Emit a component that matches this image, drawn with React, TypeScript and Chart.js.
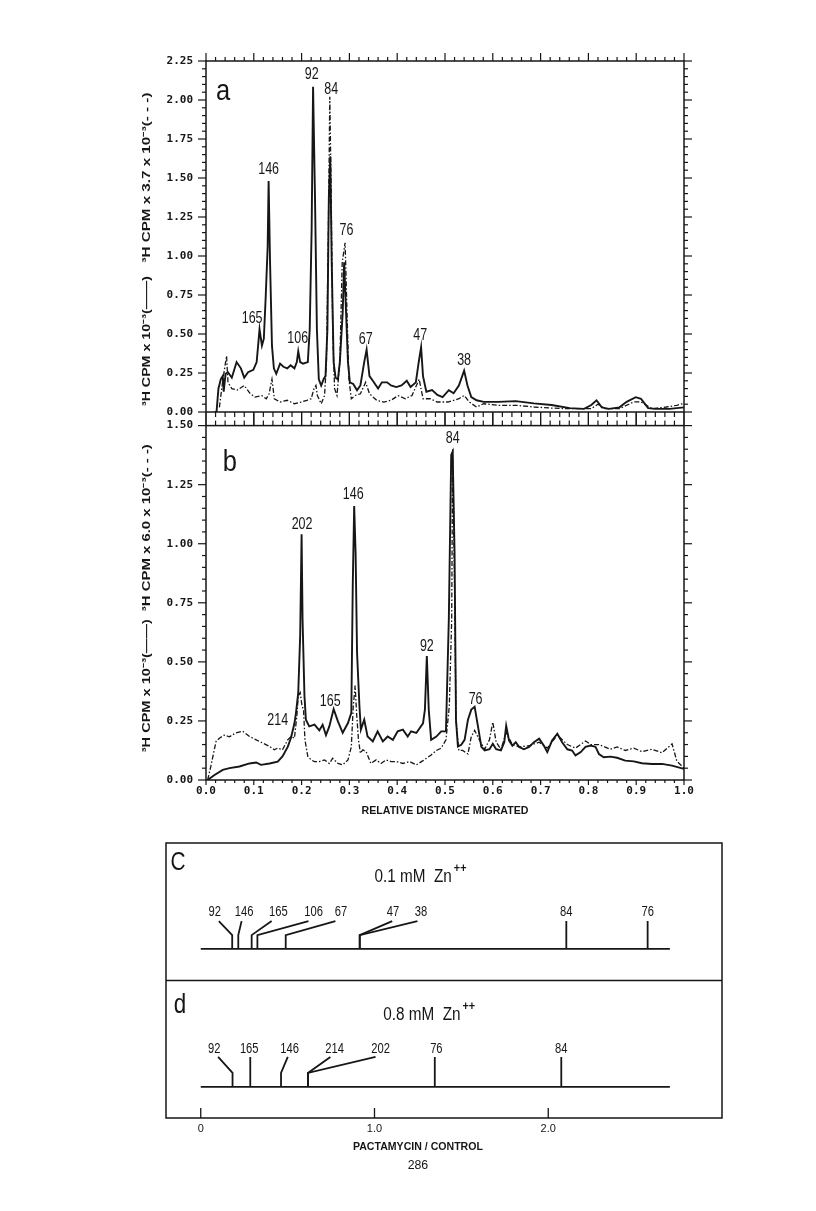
import React, { useEffect, useRef } from 'react';
import { Chart, registerables } from 'chart.js';
Chart.register(...registerables);

// ---------- Panel a (0.1 mM Zn++) ----------
const aSolidX = [0.018,0.022,0.026,0.031,0.035,0.037,0.041,0.046,0.054,0.064,0.073,0.080,0.088,0.099,0.106,0.112,0.117,0.121,0.125,0.129,0.131,0.134,0.138,0.142,0.147,0.155,0.162,0.170,0.177,0.185,0.190,0.193,0.197,0.203,0.213,0.217,0.221,0.224,0.228,0.232,0.236,0.241,0.246,0.250,0.254,0.257,0.260,0.263,0.267,0.271,0.276,0.280,0.286,0.289,0.293,0.297,0.301,0.308,0.316,0.323,0.331,0.336,0.342,0.349,0.360,0.368,0.379,0.387,0.398,0.409,0.420,0.428,0.439,0.445,0.450,0.454,0.461,0.473,0.484,0.495,0.508,0.518,0.529,0.540,0.547,0.555,0.566,0.581,0.611,0.648,0.686,0.723,0.761,0.791,0.806,0.817,0.828,0.843,0.865,0.880,0.899,0.910,0.925,0.940,0.970,1.0];
const aSolidY = [0,0,0.15,0.21,0.23,0.13,0.245,0.255,0.22,0.32,0.28,0.22,0.255,0.27,0.32,0.53,0.425,0.47,0.745,1.06,1.48,0.96,0.425,0.28,0.245,0.31,0.29,0.28,0.30,0.28,0.32,0.39,0.32,0.31,0.32,0.53,1.17,2.085,1.38,0.53,0.21,0.17,0.21,0.23,0.53,1.38,1.64,0.96,0.32,0.22,0.21,0.32,0.64,0.96,0.64,0.32,0.19,0.18,0.14,0.17,0.32,0.40,0.23,0.20,0.15,0.19,0.19,0.17,0.16,0.17,0.20,0.16,0.19,0.32,0.415,0.23,0.13,0.14,0.11,0.096,0.14,0.12,0.17,0.265,0.17,0.096,0.075,0.065,0.065,0.07,0.055,0.045,0.025,0.02,0.045,0.075,0.03,0.02,0.03,0.065,0.095,0.085,0.025,0.02,0.02,0.03];
const aDashX = [0.028,0.035,0.043,0.046,0.054,0.065,0.080,0.092,0.102,0.117,0.126,0.132,0.138,0.143,0.155,0.170,0.185,0.200,0.211,0.220,0.226,0.230,0.233,0.241,0.248,0.252,0.256,0.259,0.262,0.265,0.269,0.274,0.280,0.285,0.291,0.295,0.299,0.304,0.312,0.323,0.334,0.342,0.357,0.372,0.387,0.402,0.417,0.431,0.446,0.454,0.469,0.484,0.506,0.529,0.540,0.551,0.566,0.581,0.611,0.648,0.686,0.723,0.761,0.806,0.820,0.835,0.865,0.895,0.910,0.933,0.963,0.985,1.0];
const aDashY = [0.03,0.2,0.36,0.19,0.15,0.14,0.17,0.12,0.096,0.105,0.085,0.117,0.21,0.085,0.064,0.075,0.053,0.064,0.075,0.085,0.15,0.17,0.106,0.053,0.106,0.32,1.17,2.02,1.38,0.53,0.15,0.106,0.32,0.96,1.085,0.64,0.21,0.085,0.106,0.117,0.19,0.117,0.075,0.064,0.075,0.105,0.085,0.106,0.21,0.085,0.085,0.064,0.064,0.085,0.106,0.064,0.032,0.053,0.043,0.043,0.032,0.025,0.021,0.021,0.05,0.021,0.021,0.065,0.065,0.021,0.032,0.043,0.055];
const aPeakLabels = ['165','146','106','92','84','76','67','47','38'];
const aPeakX = [0.0965,0.131,0.192,0.221,0.262,0.294,0.334,0.448,0.54];
const aPeakY = [0.596,1.553,0.468,2.16,2.068,1.16,0.464,0.489,0.33];

// ---------- Panel b (0.8 mM Zn++) ----------
const bSolidX = [0.0035,0.017,0.035,0.049,0.07,0.091,0.105,0.115,0.133,0.15,0.16,0.171,0.178,0.185,0.188,0.193,0.197,0.2,0.202,0.206,0.209,0.216,0.227,0.237,0.244,0.251,0.258,0.267,0.276,0.286,0.297,0.304,0.307,0.31,0.313,0.316,0.321,0.324,0.331,0.338,0.349,0.359,0.37,0.38,0.391,0.401,0.412,0.422,0.429,0.44,0.454,0.458,0.462,0.466,0.471,0.482,0.492,0.502,0.508,0.513,0.516,0.52,0.523,0.527,0.534,0.541,0.548,0.555,0.562,0.569,0.576,0.583,0.593,0.6,0.607,0.617,0.624,0.628,0.634,0.641,0.648,0.655,0.665,0.676,0.686,0.697,0.707,0.714,0.724,0.735,0.745,0.756,0.766,0.773,0.784,0.794,0.805,0.815,0.822,0.832,0.846,0.86,0.877,0.895,0.912,0.933,0.954,0.975,1.0];
const bSolidY = [0,0.02,0.043,0.05,0.057,0.07,0.074,0.064,0.07,0.078,0.1,0.14,0.18,0.24,0.28,0.37,0.61,1.04,0.68,0.355,0.255,0.227,0.234,0.21,0.234,0.19,0.227,0.30,0.248,0.2,0.241,0.284,0.82,1.16,0.96,0.539,0.312,0.213,0.255,0.184,0.163,0.206,0.163,0.184,0.17,0.206,0.213,0.184,0.206,0.199,0.24,0.298,0.525,0.298,0.17,0.184,0.206,0.206,0.68,1.376,1.39,0.965,0.255,0.142,0.149,0.17,0.255,0.298,0.31,0.227,0.14,0.125,0.13,0.153,0.13,0.125,0.16,0.23,0.167,0.145,0.16,0.14,0.13,0.14,0.16,0.175,0.145,0.118,0.167,0.196,0.16,0.13,0.125,0.104,0.118,0.14,0.146,0.14,0.11,0.096,0.099,0.094,0.082,0.079,0.071,0.068,0.068,0.061,0.047];
const bDashX = [0.0035,0.01,0.021,0.028,0.038,0.049,0.063,0.077,0.091,0.105,0.119,0.133,0.143,0.15,0.16,0.171,0.178,0.185,0.19,0.193,0.197,0.201,0.204,0.207,0.213,0.22,0.227,0.237,0.248,0.258,0.265,0.276,0.286,0.297,0.304,0.308,0.312,0.315,0.319,0.323,0.328,0.335,0.345,0.356,0.366,0.377,0.387,0.398,0.412,0.426,0.44,0.454,0.464,0.471,0.482,0.492,0.502,0.509,0.514,0.516,0.52,0.523,0.529,0.537,0.548,0.555,0.562,0.572,0.583,0.593,0.6,0.607,0.617,0.628,0.641,0.655,0.676,0.697,0.714,0.735,0.756,0.773,0.794,0.805,0.822,0.846,0.86,0.877,0.895,0.912,0.933,0.954,0.975,0.985,1.0];
const bDashY = [0,0.057,0.163,0.177,0.19,0.183,0.2,0.206,0.184,0.17,0.156,0.142,0.128,0.135,0.128,0.17,0.184,0.177,0.27,0.355,0.37,0.312,0.3,0.17,0.1,0.085,0.078,0.078,0.085,0.07,0.092,0.07,0.064,0.085,0.14,0.31,0.4,0.284,0.17,0.113,0.128,0.12,0.07,0.085,0.07,0.085,0.078,0.078,0.07,0.078,0.064,0.082,0.096,0.106,0.125,0.135,0.17,0.312,0.68,1.4,0.82,0.255,0.125,0.125,0.11,0.184,0.21,0.17,0.13,0.17,0.245,0.16,0.13,0.2,0.15,0.14,0.145,0.16,0.135,0.19,0.15,0.135,0.165,0.15,0.15,0.13,0.14,0.125,0.135,0.12,0.13,0.115,0.153,0.08,0.05];
const bPeakLabels = ['214','202','165','146','92','84','76'];
const bPeakX = [0.15,0.201,0.26,0.308,0.462,0.516,0.564];
const bPeakY = [0.251,1.08,0.333,1.209,0.563,1.444,0.34];

// ---------- Panels c, d (pactamycin / control) ----------
const cLabels = ['92','146','165','106','67','47','38','84','76'];
const cLabelX = [0.081,0.25,0.447,0.649,0.807,1.106,1.268,2.104,2.572];
const cLeadX = [0.104,0.235,0.408,0.62,0.775,1.102,1.247,2.104,2.572];
const cFootX = [0.181,0.216,0.293,0.326,0.489,0.915,0.915,2.104,2.572];
const dLabels = ['92','165','146','214','202','76','84'];
const dLabelX = [0.077,0.279,0.511,0.771,1.035,1.356,2.075];
const dLeadX = [0.1,0.285,0.501,0.746,1.006,1.347,2.075];
const dFootX = [0.183,0.285,0.462,0.617,0.617,1.347,2.075];
const cdTickValues = [0, 1, 2];
const cdAxisEnd = 2.7;

const INK = '#161616';

function line(ctx: CanvasRenderingContext2D, x1: number, y1: number, x2: number, y2: number) {
  ctx.beginPath(); ctx.moveTo(x1, y1); ctx.lineTo(x2, y2); ctx.stroke();
}
function text(ctx: CanvasRenderingContext2D, s: string, x: number, y: number, font: string, sx = 1, align: CanvasTextAlign = 'center', rot = 0) {
  ctx.save();
  ctx.translate(x, y);
  if (rot) ctx.rotate(rot);
  ctx.scale(sx, 1);
  ctx.font = font; ctx.textAlign = align; ctx.textBaseline = 'middle'; ctx.fillStyle = INK;
  ctx.fillText(s, 0, 0);
  ctx.restore();
}
function fitText(ctx: CanvasRenderingContext2D, s: string, x: number, y: number, font: string, w: number, rot = 0) {
  ctx.save(); ctx.font = font; const m = ctx.measureText(s).width; ctx.restore();
  text(ctx, s, x, y, font, w / m, 'center', rot);
}
const pts = (xs: number[], ys: number[]) => xs.map((x, i) => ({ x, y: ys[i] }));

type PanelCfg = {
  labels: string[]; lx: number[]; ly: number[];
  letter: string; letterX: number; letterY: number;
  t1: string; t2: string; t1f: number; t2f: number; t1w: number; t2w: number;
  topMaj: number; topMin: number; botMaj: number; botMin: number;
  xTitle?: string;
};

function panelPlugin(cfg: PanelCfg) {
  return {
    id: 'panelDecor',
    afterDraw(chart: any) {
      const ctx: CanvasRenderingContext2D = chart.ctx;
      const { left, right, top, bottom } = chart.chartArea;
      const x = chart.scales.x, y = chart.scales.y;
      ctx.save();
      ctx.strokeStyle = INK; ctx.lineWidth = 1.5;
      ctx.strokeRect(left, top, right - left, bottom - top);
      ctx.lineWidth = 1.2;
      const ny = Math.round(y.max / 0.05);
      for (let i = 0; i <= ny; i++) {
        const p = y.getPixelForValue(i * 0.05);
        const L = i % 5 === 0 ? 8 : 4;
        line(ctx, left - L, p, left, p);
        line(ctx, right, p, right + L, p);
      }
      for (let i = 0; i <= 50; i++) {
        const p = x.getPixelForValue(i * 0.02);
        const maj = i % 5 === 0;
        line(ctx, p, top, p, top - (maj ? cfg.topMaj : cfg.topMin));
        line(ctx, p, bottom, p, bottom + (maj ? cfg.botMaj : cfg.botMin));
      }
      cfg.labels.forEach((s, i) =>
        text(ctx, s, x.getPixelForValue(cfg.lx[i]), y.getPixelForValue(cfg.ly[i]), '16px "Liberation Sans"', 0.78));
      text(ctx, cfg.letter, x.getPixelForValue(cfg.letterX), y.getPixelForValue(cfg.letterY), '30px "Liberation Sans"', 0.85);
      const tx = left - 59;
      const h = bottom - top;
      fitText(ctx, cfg.t1, tx, top + h * cfg.t1f, 'bold 11px "Liberation Sans"', cfg.t1w, -Math.PI / 2);
      fitText(ctx, cfg.t2, tx, top + h * cfg.t2f, 'bold 11px "Liberation Sans"', cfg.t2w, -Math.PI / 2);
      if (cfg.xTitle) fitText(ctx, cfg.xTitle, (left + right) / 2, bottom + 31, 'bold 11px "Liberation Sans"', 167);
      ctx.restore();
    },
  };
}

const tickFont = { family: 'DejaVu Sans Mono', size: 11, weight: 'bold' as const };

function panelConfig(solid: any[], dash: any[], yMax: number, showX: boolean, pad: any, cfg: PanelCfg): any {
  return {
    type: 'line',
    data: {
      datasets: [
        { data: dash, borderColor: INK, borderWidth: 1.3, borderDash: [5, 2, 1.5, 2], pointRadius: 0, tension: 0, fill: false },
        { data: solid, borderColor: INK, borderWidth: 1.9, pointRadius: 0, tension: 0, fill: false },
      ],
    },
    options: {
      animation: false, responsive: false, devicePixelRatio: 1,
      layout: { padding: pad },
      plugins: { legend: { display: false }, tooltip: { enabled: false } },
      scales: {
        x: {
          type: 'linear', min: 0, max: 1, display: showX,
          grid: { display: false, drawTicks: false }, border: { display: false },
          ticks: { stepSize: 0.1, color: INK, font: tickFont, padding: 5, maxRotation: 0, callback: (v: any) => Number(v).toFixed(1) },
          afterFit: (s: any) => { s.height = showX ? 40 : 0; },
        },
        y: {
          type: 'linear', min: 0, max: yMax,
          grid: { display: false, drawTicks: false }, border: { display: false },
          ticks: { stepSize: 0.25, color: INK, font: tickFont, padding: 13, callback: (v: any) => Number(v).toFixed(2) },
          afterFit: (s: any) => { s.width = 206; },
        },
      },
    },
    plugins: [panelPlugin(cfg)],
  };
}

function cdPlugin() {
  return {
    id: 'cdDecor',
    afterDraw(chart: any) {
      const ctx: CanvasRenderingContext2D = chart.ctx;
      const { left, right, top, bottom } = chart.chartArea;
      const x = chart.scales.x, y = chart.scales.y;
      ctx.save();
      ctx.strokeStyle = INK; ctx.lineWidth = 1.5;
      ctx.strokeRect(left, top, right - left, bottom - top);
      line(ctx, left, y.getPixelForValue(0.5), right, y.getPixelForValue(0.5));
      ctx.lineWidth = 1.3;
      cdTickValues.forEach(v => { const p = x.getPixelForValue(v); line(ctx, p, bottom - 10, p, bottom); });
      const lf = '14px "Liberation Sans"';
      cLabels.forEach((s, i) => text(ctx, s, x.getPixelForValue(cLabelX[i]), y.getPixelForValue(0.749), lf, 0.8));
      dLabels.forEach((s, i) => text(ctx, s, x.getPixelForValue(dLabelX[i]), y.getPixelForValue(0.251), lf, 0.8));
      const tf = '18px "Liberation Sans"';
      const drawTitle = (s: string, xl: number, yc: number) => {
        ctx.save(); ctx.font = tf; const w = ctx.measureText(s).width * 0.85; ctx.restore();
        text(ctx, s, xl, yc, tf, 0.85, 'left');
        text(ctx, '++', xl + w + 2, yc - 8, 'bold 12px "Liberation Sans"', 0.9, 'left');
      };
      drawTitle('0.1 mM  Zn', x.getPixelForValue(1.0), y.getPixelForValue(0.876));
      drawTitle('0.8 mM  Zn', x.getPixelForValue(1.05), y.getPixelForValue(0.375));
      text(ctx, 'C', x.getPixelForValue(-0.131), y.getPixelForValue(0.927), '26px "Liberation Sans"', 0.8);
      text(ctx, 'd', x.getPixelForValue(-0.12), y.getPixelForValue(0.411), '28px "Liberation Sans"', 0.8);
      fitText(ctx, 'PACTAMYCIN / CONTROL', x.getPixelForValue(1.25), bottom + 29, 'bold 11px "Liberation Sans"', 130);
      text(ctx, '286', x.getPixelForValue(1.25), bottom + 47, '13px "Liberation Sans"', 0.95);
      ctx.restore();
    },
  };
}

function cdConfig(): any {
  const ds: any[] = [];
  const base = { borderColor: INK, borderWidth: 1.8, pointRadius: 0, tension: 0, fill: false };
  ds.push({ ...base, data: [{ x: 0, y: 0.615 }, { x: cdAxisEnd, y: 0.615 }] });
  ds.push({ ...base, data: [{ x: 0, y: 0.113 }, { x: cdAxisEnd, y: 0.113 }] });
  cFootX.forEach((f, i) => ds.push({ ...base, data: [{ x: cLeadX[i], y: 0.716 }, { x: f, y: 0.665 }, { x: f, y: 0.615 }] }));
  dFootX.forEach((f, i) => ds.push({ ...base, data: [{ x: dLeadX[i], y: 0.222 }, { x: f, y: 0.164 }, { x: f, y: 0.113 }] }));
  return {
    type: 'line',
    data: { datasets: ds },
    options: {
      animation: false, responsive: false, devicePixelRatio: 1,
      layout: { padding: { left: 166, right: 94, top: 13, bottom: 0 } },
      plugins: { legend: { display: false }, tooltip: { enabled: false } },
      scales: {
        x: {
          type: 'linear', min: -0.2, max: 3.0,
          grid: { display: false, drawTicks: false }, border: { display: false },
          afterBuildTicks: (s: any) => { s.ticks = cdTickValues.map(v => ({ value: v })); },
          ticks: { color: INK, font: { family: 'Liberation Sans', size: 11 }, padding: 4, maxRotation: 0, autoSkip: false, callback: (v: any) => (Number(v) === 0 ? '0' : Number(v).toFixed(1)) },
          afterFit: (s: any) => { s.height = 93; },
        },
        y: { type: 'linear', min: 0, max: 1, display: false },
      },
    },
    plugins: [cdPlugin()],
  };
}

function ChartCanvas({ top, width, height, make }: { top: number; width: number; height: number; make: () => any }) {
  const ref = useRef<HTMLCanvasElement>(null);
  useEffect(() => {
    const chart = new Chart(ref.current as HTMLCanvasElement, make());
    return () => chart.destroy();
  }, []);
  return <canvas ref={ref} width={width} height={height} style={{ position: 'absolute', left: 0, top, width, height }} />;
}

export default function App() {
  const cfgA: PanelCfg = {
    labels: aPeakLabels, lx: aPeakX, ly: aPeakY, letter: 'a', letterX: 0.036, letterY: 2.05,
    t1: '³H CPM x 10⁻³(——)', t2: '³H CPM x 3.7 x 10⁻³(- - -)', t1f: 0.798, t2f: 0.332, t1w: 130, t2w: 170,
    topMaj: 8, topMin: 4, botMaj: 13, botMin: 5,
  };
  const cfgB: PanelCfg = {
    labels: bPeakLabels, lx: bPeakX, ly: bPeakY, letter: 'b', letterX: 0.05, letterY: 1.343,
    t1: '³H CPM x 10⁻³(——)', t2: '³H CPM x 6.0 x 10⁻³(- - -)', t1f: 0.734, t2f: 0.288, t1w: 133, t2w: 167,
    topMaj: 13, topMin: 5, botMaj: 5, botMin: 3, xTitle: 'RELATIVE DISTANCE MIGRATED',
  };
  return (
    <div>
      <ChartCanvas top={0} width={816} height={432}
        make={() => panelConfig(pts(aSolidX, aSolidY), pts(aDashX, aDashY), 2.25, false, { left: 0, right: 132, top: 61, bottom: 20 }, cfgA)} />
      <ChartCanvas top={406} width={816} height={414}
        make={() => panelConfig(pts(bSolidX, bSolidY), pts(bDashX, bDashY), 1.5, true, { left: 0, right: 132, top: 0, bottom: 0 }, cfgB)} />
      <ChartCanvas top={830} width={816} height={381} make={cdConfig} />
    </div>
  );
}
